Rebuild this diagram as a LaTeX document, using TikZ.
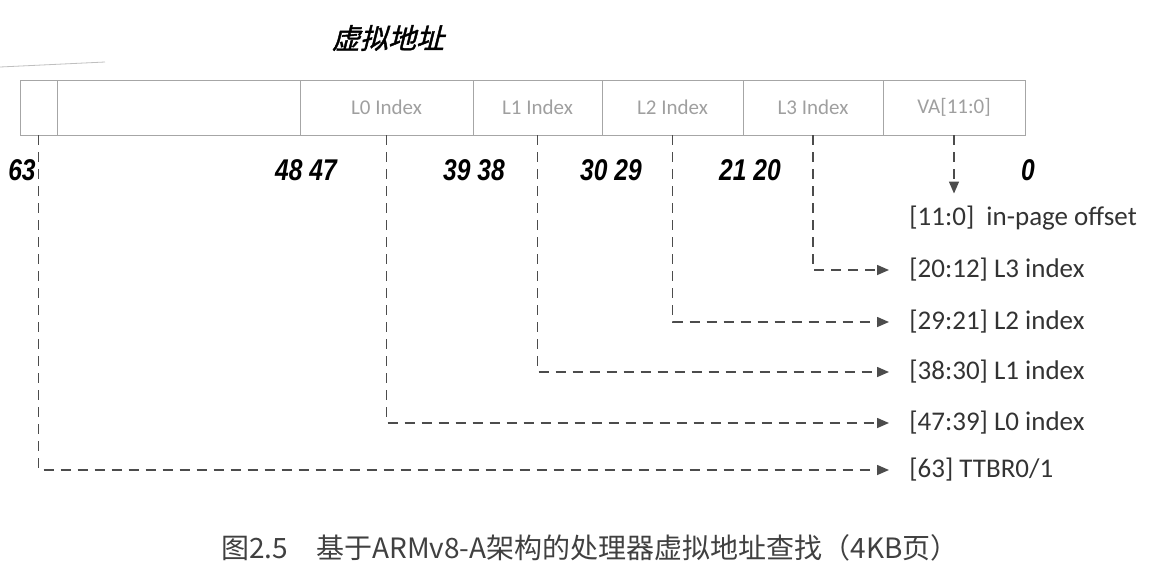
\documentclass[tikz,border=0pt]{standalone}
\usepackage{fontspec}
\setmainfont{Carlito}
\newfontfamily\cjk{Noto Sans CJK SC}
\newfontfamily\cjktitle[FakeSlant=0.25,FakeBold=1.5]{Noto Sans CJK SC}
\newfontfamily\bitfont[FakeStretch=0.82]{Liberation Sans}
\usetikzlibrary{arrows.meta,positioning}

\begin{document}
\begin{tikzpicture}[
  x=0.5pt, y=-0.5pt,
  cell/.style={
    draw=gray!70,
    line width=0.5pt,
    minimum height=27.5pt,
    inner sep=0pt,
    outer sep=0pt,
    text=gray!75,
    font=\fontsize{10.5}{12}\selectfont
  },
  bitnum/.style={anchor=base, font=\bitfont\bfseries\itshape\fontsize{15}{17}\selectfont},
  field/.style={anchor=west, inner sep=2pt, text=black!80, font=\fontsize{13.5}{15}\selectfont},
  link/.style={
    draw=black!70,
    line width=0.75pt,
    dash pattern=on 5pt off 3.5pt,
    -{Triangle[length=6pt,width=5pt]}
  }
]
\useasboundingbox (0,0) rectangle (1152,580);

\node[font=\cjktitle\fontsize{14}{16}\selectfont] (title) at (388,38) {虚拟地址};
\draw[gray!50, line width=0.4pt] (0,67) -- (105,62);

% virtual address register
\node[cell, minimum width=18.5pt, anchor=north west] (sign) at (20,80) {};
\node[cell, minimum width=121.5pt, right=0pt of sign] (upper) {};
\node[cell, minimum width=86.5pt, right=0pt of upper] (lzero) {L0 Index};
\node[cell, minimum width=64.5pt, right=0pt of lzero] (lone) {L1 Index};
\node[cell, minimum width=70.5pt, right=0pt of lone] (ltwo) {L2 Index};
\node[cell, minimum width=70pt, right=0pt of ltwo] (lthree) {L3 Index};
\node[cell, minimum width=71pt, right=0pt of lthree] (offs) {VA[11:0]};

% bit positions
\node[bitnum] (b63) at ([xshift=1pt,yshift=-22.5pt]sign.south west) {63};
\node[bitnum] (b48) at ([xshift=3pt,yshift=-22.5pt]upper.south east) {48 47};
\node[bitnum] (b39) at ([xshift=0.5pt,yshift=-22.5pt]lzero.south east) {39 38};
\node[bitnum] (b30) at ([xshift=4.5pt,yshift=-22.5pt]lone.south east) {30 29};
\node[bitnum] (b21) at ([xshift=3.5pt,yshift=-22.5pt]ltwo.south east) {21 20};
\node[bitnum] (b0) at ([xshift=1.5pt,yshift=-22.5pt]offs.south east) {0};

% decoded fields
\node[field] (tofs) at (905,218) {[11:0]\ \ in-page offset};
\node[field] (tlthree) at (905,270) {[20:12] L3 index};
\node[field] (tltwo) at (905,322) {[29:21] L2 index};
\node[field] (tlone) at (905,372) {[38:30] L1 index};
\node[field] (tlzero) at (905,423) {[47:39] L0 index};
\node[field] (tttbr) at (905,470) {[63] TTBR0/1};

\draw[link, shorten >=4pt] (offs.south) -- (offs.south |- tofs.north);
\draw[link, shorten >=8pt] (lthree.south) |- (tlthree.west);
\draw[link, shorten >=8pt] (ltwo.south) |- (tltwo.west);
\draw[link, shorten >=8pt] (lone.south) |- (tlone.west);
\draw[link, shorten >=8pt] (lzero.south) |- (tlzero.west);
\draw[link, shorten >=8pt] (sign.south) |- (tttbr.west);

\node[text=black!75, font=\cjk\fontsize{14}{16}\selectfont] (caption) at (590,548)
  {图2.5\quad 基于ARMv8-A架构的处理器虚拟地址查找（4KB页）};

\end{tikzpicture}
\end{document}
